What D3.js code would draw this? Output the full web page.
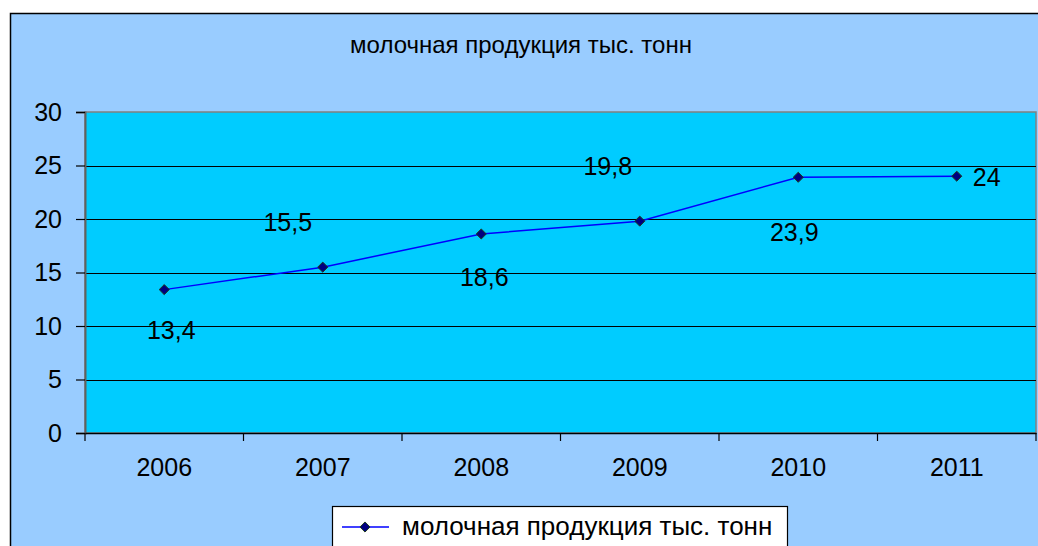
<html>
<head>
<meta charset="utf-8">
<script src="https://d3js.org/d3.v7.min.js"></script>
<style>
  body { margin: 0; background: #fff; }
  text { font-family: "Liberation Sans", Arial, sans-serif; fill: #000; }
</style>
</head>
<body>
<svg width="1038" height="546"></svg>
<script>
// data
var years = ["2006", "2007", "2008", "2009", "2010", "2011"];
var values = [13.4, 15.5, 18.6, 19.8, 23.9, 24];
var valueLabels = ["13,4", "15,5", "18,6", "19,8", "23,9", "24"];
var yTicks = [0, 5, 10, 15, 20, 25, 30];
var title = "молочная продукция тыс. тонн";

// label placement relative to each marker (dx, dy, anchor)
var labelPos = [[7, 49, "middle"], [-35, -36, "middle"], [3, 52, "middle"],
                [-32, -46, "middle"], [-4, 64, "middle"], [16, 10, "start"]];

var svg = d3.select("svg");

// outer chart area
svg.append("rect")
  .attr("x", 10.5).attr("y", 13.5)
  .attr("width", 1040).attr("height", 545)
  .attr("fill", "#99ccff")
  .attr("stroke", "#000").attr("stroke-width", 1.5);

var x = d3.scaleBand().domain(years).range([85, 1036]);
var y = d3.scaleLinear().domain([0, 30]).range([433, 112]);

// plot area
svg.append("rect")
  .attr("x", 85).attr("y", 112)
  .attr("width", 1036 - 85).attr("height", 433 - 112)
  .attr("fill", "#00ccff")
  .attr("stroke", "#808080").attr("stroke-width", 1.5);

// gridlines
svg.append("g")
  .selectAll("line")
  .data(yTicks.slice(1, -1))
  .enter().append("line")
    .attr("x1", 85).attr("x2", 1036)
    .attr("y1", function(d) { return Math.round(y(d)) + 0.5; })
    .attr("y2", function(d) { return Math.round(y(d)) + 0.5; })
    .attr("stroke", "#000").attr("stroke-width", 1.2);

// y axis
var yAxis = svg.append("g")
  .attr("transform", "translate(85,0)")
  .call(d3.axisLeft(y).tickValues(yTicks).tickSize(9).tickPadding(14));
yAxis.select(".domain").attr("stroke", "#606060").attr("stroke-width", 2);
yAxis.selectAll(".tick line").attr("stroke", "#000").attr("stroke-width", 1.2);
yAxis.selectAll("text")
  .style("font-size", "25px").style("font-family", "Liberation Sans, Arial, sans-serif")
  .attr("fill", "#000");

// x axis
var xAxis = svg.append("g")
  .attr("transform", "translate(0,433)")
  .call(d3.axisBottom(x).tickSize(0).tickPadding(25));
xAxis.select(".domain").attr("stroke", "#000").attr("stroke-width", 1.5);
xAxis.selectAll("text")
  .style("font-size", "25px").style("font-family", "Liberation Sans, Arial, sans-serif")
  .attr("fill", "#000");

// category boundary ticks
svg.append("g")
  .selectAll("line")
  .data(years.concat(["end"]))
  .enter().append("line")
    .attr("x1", function(d, i) { return i < years.length ? x(d) : x.range()[1]; })
    .attr("x2", function(d, i) { return i < years.length ? x(d) : x.range()[1]; })
    .attr("y1", 433).attr("y2", 441)
    .attr("stroke", "#000").attr("stroke-width", 1.2);

// line
var line = d3.line()
  .x(function(d, i) { return x(years[i]) + x.bandwidth() / 2; })
  .y(function(d) { return y(d); });

svg.append("path")
  .datum(values)
  .attr("d", line)
  .attr("fill", "none")
  .attr("stroke", "#0000ff")
  .attr("stroke-width", 1.5);

// markers
var diamond = d3.symbol().type(d3.symbolDiamond2).size(65);
svg.append("g")
  .selectAll("path")
  .data(values)
  .enter().append("path")
    .attr("d", diamond)
    .attr("transform", function(d, i) {
      return "translate(" + (x(years[i]) + x.bandwidth() / 2) + "," + y(d) + ")";
    })
    .attr("fill", "#000080")
    .attr("stroke", "#1f3d1f").attr("stroke-width", 1);

// data labels
svg.append("g")
  .selectAll("text")
  .data(values)
  .enter().append("text")
    .attr("x", function(d, i) { return x(years[i]) + x.bandwidth() / 2 + labelPos[i][0]; })
    .attr("y", function(d, i) { return y(d) + labelPos[i][1]; })
    .attr("text-anchor", function(d, i) { return labelPos[i][2]; })
    .attr("font-size", "25px")
    .text(function(d, i) { return valueLabels[i]; });

// title
svg.append("text")
  .attr("x", 521).attr("y", 53)
  .attr("text-anchor", "middle")
  .attr("font-size", "24px")
  .text(title);

// legend
var legend = svg.append("g");
legend.append("rect")
  .attr("x", 332.5).attr("y", 506.5)
  .attr("width", 455).attr("height", 60)
  .attr("fill", "#fff")
  .attr("stroke", "#000").attr("stroke-width", 1.2);
legend.append("line")
  .attr("x1", 342).attr("x2", 389)
  .attr("y1", 527).attr("y2", 527)
  .attr("stroke", "#0000ff").attr("stroke-width", 1.5);
legend.append("path")
  .attr("d", diamond)
  .attr("transform", "translate(365,527)")
  .attr("fill", "#000080")
  .attr("stroke", "#1f3d1f").attr("stroke-width", 1);
legend.append("text")
  .attr("x", 402).attr("y", 535)
  .attr("font-size", "26px")
  .text(title);
</script>
</body>
</html>
